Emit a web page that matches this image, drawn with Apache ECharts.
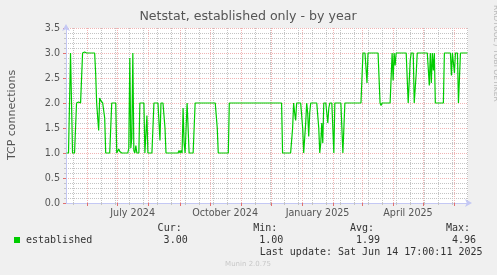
<!DOCTYPE html>
<html><head><meta charset="utf-8">
<script src="https://cdn.jsdelivr.net/npm/echarts@6/dist/echarts.min.js"></script>
<style>html,body{margin:0;padding:0;background:#f0f0f0}#c{width:497px;height:275px}</style>
</head><body><div id="c"></div>
<script>
// ---- data ----
const startDate = '2024-05-10T17:00:00Z';
const endDate = '2025-06-14T17:00:00Z';
// one value per day, starting at startDate
const values = [
 1,1,1,1,3,3,1,1,1,1,
 2,2.02,2.02,2.02,2,2,3,3.02,3.02,3,
 3,3,3,3,3,3,3,3,3,2.6,
 2,2,1.45,2.1,2.05,2.05,2,2,1.7,1,
 1,1,1,1,1,2,2,2,2,2,
 1,1,1.08,1.03,1,1,1,1,1,1,
 1,1,1.1,2.9,1.1,1.3,3,1.05,1,1.15,
 1,1,1,2,2,2,2,2,1,1,
 1.75,1,1,1,1,1,1,2,2,2,
 2,2,2,1.25,2,2,2,2,1.5,1,
 1,1,1,1,1,1,1,1,1,1,
 1,1,1.05,1,1.05,1,1.9,1.2,1,1,
 2,2,1,1,1,1,1,1,2,2.02,
 2,2,2,2,2,2,2,2,2,2,
 2,2,2,2,2,2,2,2,2,2,
 1.5,1,1,1,1,1,1,1,1,1,
 1,1,2,2,2,2,2,2,2,2,
 2,2,2,2,2,2,2,2,2,2,
 2,2,2,2,2,2,2,2,2,2.02,
 2,2,2,2,2,2,2,2,2,2,
 2,2,2,2,2,2,2,2,2,2,
 2,2,2,2,2,1,1,1,1,1,
 1,1,1,1,1,1.5,2,1.8,1.65,2,
 2,2,2,2,2,1.5,1,1,1.6,2,
 1.8,1.33,1.8,2,2,2,2,2,2,2,
 2,1.5,1,1.2,1.6,1.2,2,2,2,2,
 1.6,1.9,2,2,2,2,1,2,2,2,
 2,2,2,2,1.5,1,1.5,2,2,2,
 2,2,2,2,2,2,2,2,2,2,
 2,2,2,2,2,3,3,3,3,2.4,
 3,3,3,3,3,3,3,3,3,3,
 3,3,2,1.95,2,2,2,2,2,2,
 2,2,2,2,3,2.45,3,2.75,3,3,
 3,3,3,2.97,3,3,3,3,3,3,
 2,2,2.85,3,3,3,2,2.3,2.6,3,
 3,3,3,3,3,3,3,3,3,3,
 3,2.35,3,2.4,3,2.65,3,2,2,2,
 2,2,2,2,2,2,3,3,3,3,
 3,3,3,2.55,3,3,2.6,3,3,3,
 2,2.5,3,3,3,3,3,3,3,3
];
const monthStarts = ['2024-06-01','2024-07-01','2024-08-01','2024-09-01','2024-10-01','2024-11-01','2024-12-01',
  '2025-01-01','2025-02-01','2025-03-01','2025-04-01','2025-05-01','2025-06-01'];
const labelDates = ['2024-07-16','2024-10-16','2025-01-16','2025-04-16'];
const labelTexts = ['July 2024','October 2024','January 2025','April 2025'];
const firstMinorGrid = '2024-05-17T12:00:00Z';
const seriesName = 'established';
const statHeads = ['Cur:','Min:','Avg:','Max:'];
const statValues = ['3.00','1.00','1.99','4.96'];
const lastUpdate = 'Last update: Sat Jun 14 17:00:11 2025';

// ---- build ----
const DAY = 86400000;
const t0 = Date.parse(startDate), t1 = Date.parse(endDate);
const seriesData = values.map((v, i) => [t0 + (i + 0.5) * DAY, v]);
const monthMs = monthStarts.map(d => Date.parse(d + 'T00:00:00Z'));
const labelMs = labelDates.map(d => Date.parse(d + 'T00:00:00Z'));
const minorMs = [];
for (let t = Date.parse(firstMinorGrid); t < t1; t += 14 * DAY) minorMs.push(t);

const RED = '#f0b4b4', GREY = '#c4c4c4', AXIS = '#c4c8f4', TXT = '#555555';
const SANS = 'DejaVu Sans', MONO = 'DejaVu Sans Mono';

const chart = echarts.init(document.getElementById('c'), null, {renderer: 'canvas'});
const statX = [181.7, 277.3, 374, 470];
const graphic = [
  {type: 'text', x: 248, y: 17, style: {text: 'Netstat, established only - by year', font: '12.6px ' + SANS, fill: TXT, align: 'center', verticalAlign: 'middle'}},
  {type: 'text', x: 12, y: 115, rotation: Math.PI / 2, style: {text: 'TCP connections', font: '11px ' + SANS, fill: TXT, align: 'center', verticalAlign: 'middle'}},
  {type: 'text', x: 492, y: 5, rotation: -Math.PI / 2, style: {text: 'RRDTOOL / TOBI OETIKER', font: '7.5px ' + SANS, fill: '#b8b8b8', align: 'left', verticalAlign: 'bottom'}},
  {type: 'rect', shape: {x: 14, y: 237, width: 6, height: 6}, style: {fill: '#00cc00'}},
  {type: 'text', x: 26, y: 240, style: {text: seriesName, font: '10px ' + MONO, fill: '#333', align: 'left', verticalAlign: 'middle'}},
  {type: 'text', x: 482.5, y: 252, style: {text: lastUpdate, font: '10px ' + MONO, fill: '#333', align: 'right', verticalAlign: 'middle'}},
  {type: 'text', x: 248, y: 264, style: {text: 'Munin 2.0.75', font: '7px ' + SANS, fill: '#c8c8c8', align: 'center', verticalAlign: 'middle'}}
];
statHeads.forEach((h, k) => {
  graphic.push({type: 'text', x: statX[k], y: 228, style: {text: h, font: '10px ' + MONO, fill: '#333', align: 'right', verticalAlign: 'middle'}});
  graphic.push({type: 'text', x: statX[k] + 6, y: 240, style: {text: statValues[k], font: '10px ' + MONO, fill: '#333', align: 'right', verticalAlign: 'middle'}});
});

chart.setOption({
  backgroundColor: '#f0f0f0',
  animation: false,
  grid: {left: 66, right: 29, top: 28, bottom: 72, show: true, backgroundColor: '#ffffff', borderWidth: 0},
  xAxis: [
    {type: 'value', min: t0, max: t1, position: 'bottom',
     axisLine: {show: false}, axisLabel: {show: false},
     axisTick: {show: true, length: 2, customValues: minorMs, lineStyle: {color: GREY}},
     splitLine: {show: true, lineStyle: {color: GREY, type: [1, 1], width: 1}}},
    {type: 'value', min: t0, max: t1, position: 'bottom',
     axisLine: {show: true, lineStyle: {color: AXIS, width: 1}, symbol: ['none', 'arrow'], symbolSize: [6, 7], symbolOffset: [0, 4]},
     axisTick: {show: true, length: 3, customValues: monthMs, lineStyle: {color: '#e07070'}},
     axisLabel: {show: true, customValues: labelMs, margin: 5, color: TXT, fontFamily: SANS, fontSize: 9.6,
       formatter: v => labelTexts[labelMs.indexOf(v)] || ''},
     splitLine: {show: true, lineStyle: {color: RED, type: [1, 1], width: 1}}}
  ],
  yAxis: {type: 'value', min: 0, max: 3.5, interval: 0.5,
    axisLine: {show: true, lineStyle: {color: AXIS, width: 1}, symbol: ['none', 'arrow'], symbolSize: [6, 7], symbolOffset: [0, 4]},
    axisTick: {show: true, length: 3, lineStyle: {color: '#e07070'}},
    minorTick: {show: true, splitNumber: 5, length: 2, lineStyle: {color: GREY}},
    axisLabel: {color: TXT, fontFamily: SANS, fontSize: 9.6, margin: 6, formatter: v => v.toFixed(1)},
    splitLine: {show: true, lineStyle: {color: RED, type: [1, 1], width: 1}},
    minorSplitLine: {show: true, lineStyle: {color: GREY, type: [1, 1], width: 1}}},
  series: [{
    name: seriesName, type: 'line', xAxisIndex: 1, data: seriesData,
    showSymbol: false, symbol: 'none', lineStyle: {color: '#00cc00', width: 1.2}, z: 5
  }],
  graphic: graphic
});
</script></body></html>
